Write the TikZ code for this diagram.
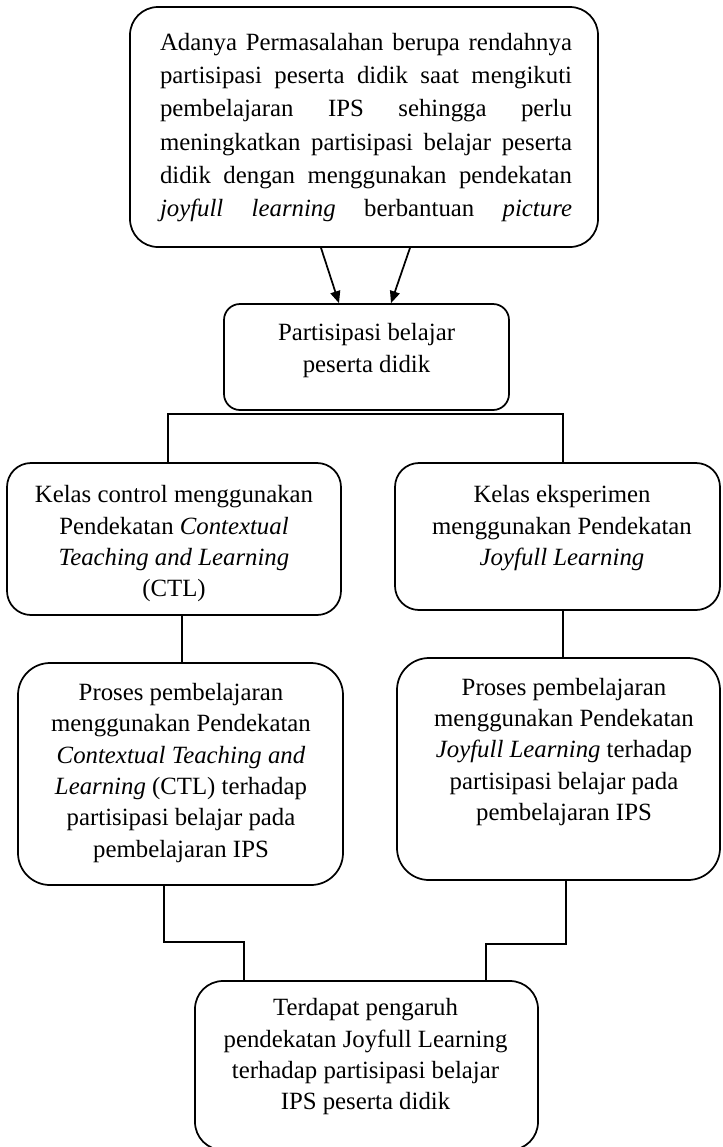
\documentclass[tikz,border=0pt]{standalone}
\usepackage{fontspec}
\setmainfont{Liberation Serif}
\usetikzlibrary{arrows.meta,calc}
\newcommand\fsA{\fontsize{18.6pt}{25pt}\selectfont}
\newcommand\fsB{\fontsize{18.6pt}{23.5pt}\selectfont}
\newcommand\fsC{\fontsize{18.6pt}{24pt}\selectfont}
\newcommand\jl[1]{\makebox[309pt][s]{#1}}
\tikzset{
  box/.style={draw, line width=1.3pt, rounded corners=#1, inner sep=0pt},
  txt/.style={align=center, inner sep=0pt, font=\fsB},
  conn/.style={line width=1.3pt},
  arr/.style={line width=1.3pt, -{Triangle[length=9pt,width=7.5pt]}}
}
\begin{document}
\begin{tikzpicture}[x=0.75pt,y=-0.75pt]
\useasboundingbox (0,0) rectangle (723,1147);
\clip (0,0) rectangle (723,1147);
% boxes
\node[box=21pt, minimum width=351pt, minimum height=180pt] (top) at (364,127) {};
\node[box=12pt, minimum width=213.75pt, minimum height=79.5pt] (mid) at (366.5,357) {};
\node[box=18pt, minimum width=250.5pt, minimum height=114pt] (lbox) at (174,539) {};
\node[box=18pt, minimum width=243.75pt, minimum height=110.25pt] (rbox) at (557.5,536.5) {};
\node[box=24pt, minimum width=243.75pt, minimum height=166.5pt] (llow) at (180.5,774) {};
\node[box=24pt, minimum width=242.25pt, minimum height=166.5pt] (rlow) at (558.5,769) {};
\node[box=21pt, minimum width=257.25pt, minimum height=126.75pt] (bot) at (366.5,1065.5) {};
% texts
\node[txt, font=\fsA] (topT) at (366,127.7) {%
\jl{Adanya Permasalahan berupa rendahnya}\\
\jl{partisipasi peserta didik saat mengikuti}\\
\jl{pembelajaran IPS sehingga perlu}\\
\jl{meningkatkan partisipasi belajar peserta}\\
\jl{didik dengan menggunakan pendekatan}\\
\jl{\textit{joyfull} \textit{learning} berbantuan \textit{picture}}};
\node[txt, font=\fsC] (midT) at (366.5,350.3) {Partisipasi belajar\\peserta didik};
\node[txt] (lT) at (174,543.8) {Kelas control menggunakan\\Pendekatan \textit{Contextual}\\\textit{Teaching and Learning}\\(CTL)};
\node[txt] (rT) at (562,528.2) {Kelas eksperimen\\menggunakan Pendekatan\\\textit{Joyfull Learning}};
\node[txt] (llT) at (181,772.7) {Proses pembelajaran\\menggunakan Pendekatan\\\textit{Contextual Teaching and}\\\textit{Learning} (CTL) terhadap\\partisipasi belajar pada\\pembelajaran IPS};
\node[txt] (rlT) at (564,752) {Proses pembelajaran\\menggunakan Pendekatan\\\textit{Joyfull Learning} terhadap\\partisipasi belajar pada\\pembelajaran IPS};
\node[txt] (botT) at (365.5,1057) {Terdapat pengaruh\\pendekatan Joyfull Learning\\terhadap partisipasi belajar\\IPS peserta didik};
% connectors
\draw[arr] ($(top.south)+(-43,0)$) -- ($(mid.north)+(-27.5,0)$);
\draw[arr] ($(top.south)+(46,0)$) -- ($(mid.north)+(24.5,0)$);
\coordinate (branch) at ($(mid.south)+(0,3)$);
\draw[conn] ($(lbox.north)+(-6,0)$) |- (branch) -| ($(rbox.north)+(5.5,0)$);
\draw[conn] ($(lbox.south)+(8,0)$) -- ($(llow.north)+(1.5,0)$);
\draw[conn] ($(rbox.south)+(5.5,0)$) -- ($(rlow.north)+(4.5,0)$);
\draw[conn] ($(llow.south)+(-16.5,0)$) -- ++(0,56) -| ($(bot.north)+(-122.5,0)$);
\draw[conn] ($(rlow.south)+(7.5,0)$) -- ++(0,63) -| ($(bot.north)+(119.5,0)$);
\end{tikzpicture}
\end{document}
